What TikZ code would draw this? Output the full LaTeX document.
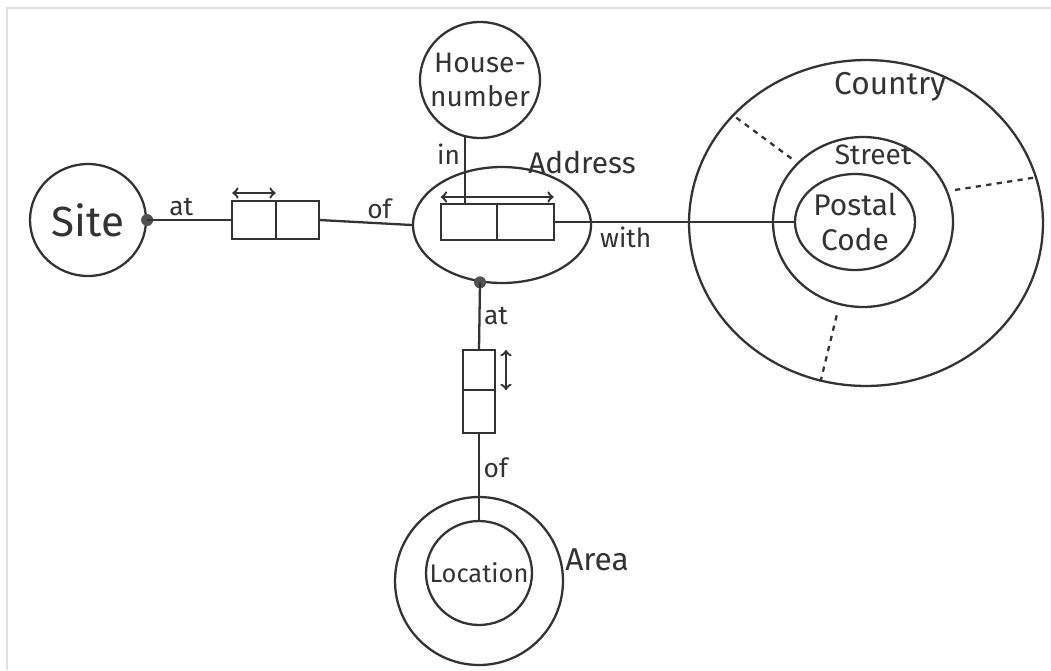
\documentclass[tikz,border=0pt]{standalone}
\usepackage{fontspec}
\setmainfont{Fira Sans}
\usetikzlibrary{shapes.geometric,positioning}
\definecolor{pencil}{HTML}{333333}
\tikzset{
  blob/.style={draw=pencil, ellipse, line width=1.3pt, inner sep=0pt, align=center, text=pencil},
  cell/.style={draw=pencil, rectangle, line width=1.3pt, inner sep=0pt, outer sep=0pt},
  lbl/.style={text=pencil, font=\fontsize{15}{18}\selectfont, inner sep=2pt},
  joint/.style={circle, fill=pencil!85, inner sep=0pt, minimum size=0.24cm},
}

\begin{document}
\begin{tikzpicture}[x=0.02cm, y=-0.02cm, line width=1.3pt, color=pencil]
\useasboundingbox (0,0) rectangle (1051,670);
\draw[line width=1.5pt, black!12] (7,670) -- (7,8) -- (1051,8);

\node[blob, minimum width=2.32cm, minimum height=2.24cm, font=\fontsize{24}{28}\selectfont] (site) at (88,220) {Site};
\node[blob, minimum width=2.4cm, minimum height=2.32cm, inner sep=-6pt, font=\fontsize{16}{19}\selectfont] (housenr) at (480,80) {House-\\number};
\node[blob, minimum width=3.56cm, minimum height=2.32cm] (address) at (502,225) {};
\node[lbl, font=\fontsize{17}{20}\selectfont] (addresslbl) at (582,162) {Address};
\node[blob, minimum width=7.08cm, minimum height=6.52cm] (country) at (866,223) {};
\node[blob, minimum width=3.6cm, minimum height=3.4cm] (street) at (863,222) {};
\node[blob, minimum width=2.4cm, minimum height=1.92cm, inner sep=-6pt, font=\fontsize{17}{20}\selectfont] (postal) at (855,222) {Postal\\Code};
\node[lbl, font=\fontsize{18}{21}\selectfont] (countrylbl) at (890,87) {Country};
\node[lbl, font=\fontsize{16}{19}\selectfont] (streetlbl) at (873,155) {Street};
\node[blob, minimum width=3.36cm, minimum height=3.36cm] (area) at (479,581) {};
\node[blob, minimum width=2.12cm, minimum height=2.08cm, inner sep=-10pt, font=\fontsize{14.5}{17}\selectfont] (location) at (479,573) {Location};
\node[lbl, font=\fontsize{18}{21}\selectfont] (arealbl) at (597,560) {Area};

\node[cell, minimum width=0.87cm, minimum height=0.76cm] (sitel) at (254,220) {};
\node[cell, minimum width=0.87cm, minimum height=0.76cm, right=0pt of sitel] (siter) {};
\node[cell, minimum width=1.13cm, minimum height=0.72cm] (addrl) at (469,222) {};
\node[cell, minimum width=1.13cm, minimum height=0.72cm, right=0pt of addrl] (addrr) {};
\node[cell, minimum width=0.64cm, minimum height=0.8cm] (loct) at (479,370) {};
\node[cell, minimum width=0.64cm, minimum height=0.86cm, below=0pt of loct] (locb) {};

\node[joint] (sitej) at (site.east) {};
\node[joint] (addrj) at (address.249) {};

\draw (sitej.center) -- node[lbl, above, pos=0.4] {at} (sitel.west);
\draw (siter.east) -- node[lbl, above, pos=0.65] {of} (address.west);
\draw (housenr.255) -- node[lbl, left, pos=0.25] {in} (housenr.255 |- addrl.north);
\draw (addrr.east) -- node[lbl, below, pos=0.3] {with} (postal.west);
\draw (addrj.center) -- node[lbl, right, pos=0.5] {at} (loct.north);
\draw (locb.south) -- node[lbl, right, pos=0.55] {of} (area.north) -- (location.north);

\draw[<->] ([yshift=0.16cm]sitel.north west) -- ([yshift=0.16cm]sitel.north east);
\draw[<->] ([yshift=0.14cm]addrl.north west) -- ([yshift=0.14cm]addrr.north east);
\draw[<->] ([xshift=0.22cm]loct.north east) -- ([xshift=0.22cm]loct.south east);

\draw[dashed, shorten <=4pt] (street.20) -- (country.15);
\draw[dashed, shorten <=4pt] (street.138) -- (country.141);
\draw[dashed, shorten <=6pt] (street.254) -- (country.254);
\end{tikzpicture}
\end{document}
